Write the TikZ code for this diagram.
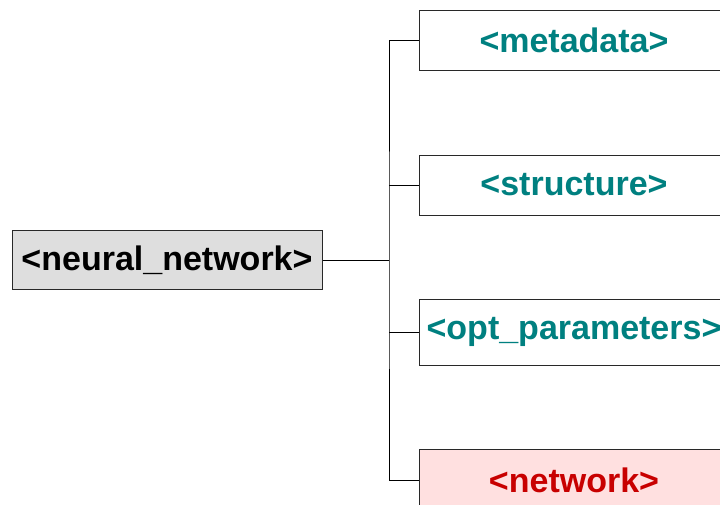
\documentclass[tikz,border=0pt]{standalone}
\usepackage{fontspec}
\setmainfont{Liberation Sans}
\usepackage{xcolor}
\usetikzlibrary{positioning}

\definecolor{tagteal}{RGB}{0,128,128}
\definecolor{tagred}{RGB}{200,0,0}
\definecolor{rootgray}{RGB}{222,222,222}
\definecolor{netpink}{RGB}{255,224,224}
\definecolor{edgegray}{RGB}{40,40,40}

\tikzset{
  tagbox/.style={draw=edgegray, line width=1pt, minimum width=310pt, inner sep=0pt,
                 font=\fontsize{34}{40}\selectfont\bfseries},
  conn/.style={black, line width=1pt}
}

\begin{document}
\begin{tikzpicture}[x=1pt,y=-1pt]

\useasboundingbox (0,0) rectangle (720,504);
\clip (0,0) rectangle (720,504);

% root element
\node[tagbox, fill=rootgray, text=black, minimum height=59pt] (nn) at (167,260) {<neural\_network>};

% child elements
\node[tagbox, fill=white, text=tagteal, minimum height=60pt] (meta) at (574,40.5) {<metadata>};
\node[tagbox, fill=white, text=tagteal, minimum height=60pt] (struct) at (574,185) {<structure>};
\node[tagbox, fill=white, text=tagteal, minimum height=66pt] (optp) at (574,332) {<opt\_parameters>};
\node[tagbox, fill=netpink, text=tagred, minimum height=62pt] (net) at (574,480) {<network>};

% tree lines
\coordinate (trunk) at (389,260);
\draw[conn] (nn.east) -- (trunk);
\draw[conn] (meta.west) -| (trunk) |- (net.west);
\draw[conn] (trunk |- struct.west) -- (struct.west);
\draw[conn] (trunk |- optp.west) -- (optp.west);

\end{tikzpicture}
\end{document}
